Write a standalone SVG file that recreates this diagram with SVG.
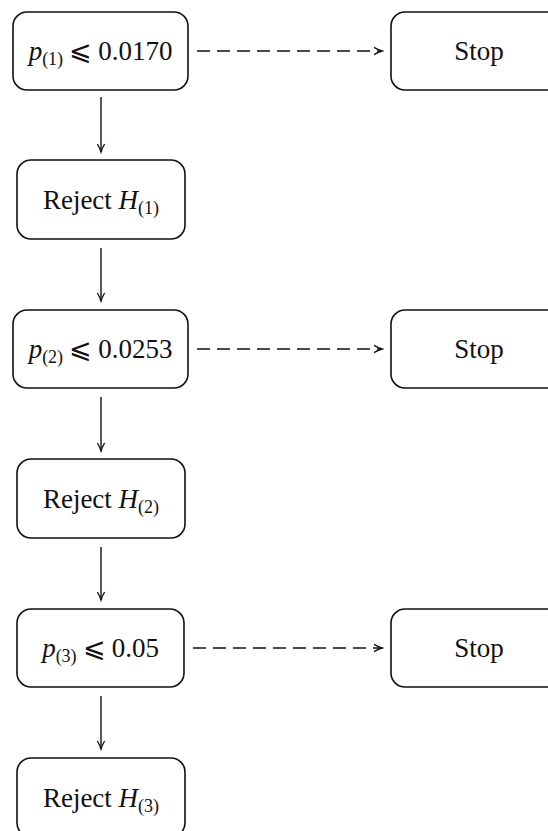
<svg xmlns="http://www.w3.org/2000/svg" width="548" height="831" viewBox="0 0 548 831">
<style>
.box{fill:#fff;stroke:#111;stroke-width:1.6}
.t{font-size:27px;fill:#111;text-anchor:middle}
.i{font-style:italic}
.s{font-size:18px}
.c{stroke:#111;stroke-width:1.4;fill:none}
.d{stroke-dasharray:13 7}
</style>
<defs>
<marker id="ah" viewBox="-10 -5 12 10" refX="0" refY="0" markerWidth="12" markerHeight="10" markerUnits="userSpaceOnUse" orient="auto">
<path d="M-8,-3.6 Q-3,-0.8 0,0 Q-3,0.8 -8,3.6" fill="none" stroke="#111" stroke-width="1.3"/>
</marker>
</defs>
<g id="connectors">
<line class="c" x1="101" y1="97" x2="101" y2="152" marker-end="url(#ah)"/>
<line class="c" x1="101" y1="248" x2="101" y2="301" marker-end="url(#ah)"/>
<line class="c" x1="101" y1="397" x2="101" y2="451" marker-end="url(#ah)"/>
<line class="c" x1="101" y1="547" x2="101" y2="600" marker-end="url(#ah)"/>
<line class="c" x1="101" y1="696" x2="101" y2="749" marker-end="url(#ah)"/>
<line class="c d" x1="197" y1="51" x2="382" y2="51" marker-end="url(#ah)"/>
<line class="c d" x1="197" y1="349" x2="382" y2="349" marker-end="url(#ah)"/>
<line class="c d" x1="193" y1="648" x2="382" y2="648" marker-end="url(#ah)"/>
</g>
<g font-family="'Liberation Serif', 'DejaVu Serif', serif">
<g id="test1">
<rect class="box" x="13" y="12" width="175" height="78" rx="14"/>
<text class="t" x="100.5" y="60"><tspan class="i">p</tspan><tspan class="s" dy="5">(1)</tspan><tspan dy="-5" dx="6">⩽</tspan><tspan dx="6">0.0170</tspan></text>
</g>
<g id="stop1">
<rect class="box" x="391" y="12" width="175" height="78" rx="14"/>
<text class="t" x="479" y="60">Stop</text>
</g>
<g id="reject1">
<rect class="box" x="17" y="160" width="168" height="79" rx="14"/>
<text class="t" x="101" y="209">Reject <tspan class="i">H</tspan><tspan class="s" dy="5">(1)</tspan></text>
</g>
<g id="test2">
<rect class="box" x="13" y="310" width="175" height="78" rx="14"/>
<text class="t" x="100.5" y="358"><tspan class="i">p</tspan><tspan class="s" dy="5">(2)</tspan><tspan dy="-5" dx="6">⩽</tspan><tspan dx="6">0.0253</tspan></text>
</g>
<g id="stop2">
<rect class="box" x="391" y="310" width="175" height="78" rx="14"/>
<text class="t" x="479" y="358">Stop</text>
</g>
<g id="reject2">
<rect class="box" x="17" y="459" width="168" height="79" rx="14"/>
<text class="t" x="101" y="508">Reject <tspan class="i">H</tspan><tspan class="s" dy="5">(2)</tspan></text>
</g>
<g id="test3">
<rect class="box" x="17" y="609" width="167" height="78" rx="14"/>
<text class="t" x="100.5" y="657"><tspan class="i">p</tspan><tspan class="s" dy="5">(3)</tspan><tspan dy="-5" dx="6">⩽</tspan><tspan dx="6">0.05</tspan></text>
</g>
<g id="stop3">
<rect class="box" x="391" y="609" width="175" height="78" rx="14"/>
<text class="t" x="479" y="657">Stop</text>
</g>
<g id="reject3">
<rect class="box" x="17" y="758" width="168" height="79" rx="14"/>
<text class="t" x="101" y="807">Reject <tspan class="i">H</tspan><tspan class="s" dy="5">(3)</tspan></text>
</g>
</g>
</svg>
